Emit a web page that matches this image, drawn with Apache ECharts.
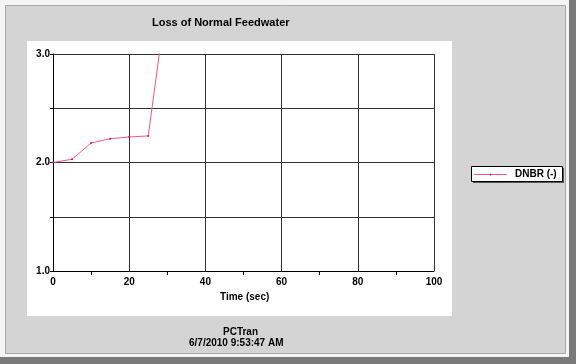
<!DOCTYPE html>
<html><head><meta charset="utf-8">
<script src="https://cdn.jsdelivr.net/npm/echarts@6/dist/echarts.min.js"></script>
<style>html,body{margin:0;padding:0;background:#d4d4d4}#c{width:576px;height:364px}</style>
</head><body><div id="c"></div>
<script>
const timeSec = [0, 5, 10, 15, 20, 25, 30];
const dnbr = [2.0, 2.03, 2.18, 2.22, 2.235, 2.245, 3.55];
const xTicks = [0, 20, 40, 60, 80, 100];
const yTicks = [1.0, 2.0, 3.0];
const titleText = 'Loss of Normal Feedwater';
const seriesName = 'DNBR (-)';
const footer1 = 'PCTran';
const footer2 = '6/7/2010 9:53:47 AM';

const chart = echarts.init(document.getElementById('c'), null, {renderer: 'canvas'});
const F = 'Arial, "Liberation Sans", sans-serif';
const lineColor = '#f4587a';
chart.setOption({
  backgroundColor: '#d4d4d4',
  animation: false,
  graphic: [
    {type: 'rect', z: -10, shape: {x: 0, y: 0, width: 576, height: 364}, style: {fill: '#7a7a7a'}},
    {type: 'rect', z: -9, shape: {x: 0, y: 0, width: 569, height: 357}, style: {fill: '#f4f4f4'}},
    {type: 'rect', z: -8, shape: {x: 5.5, y: 5.5, width: 560, height: 348}, style: {fill: '#d4d4d4', stroke: '#a8a8a8', lineWidth: 1}},
    {type: 'rect', z: -7, shape: {x: 27, y: 41, width: 425, height: 275}, style: {fill: '#ffffff'}},
    {type: 'text', style: {text: titleText, font: 'bold 11px ' + F, fill: '#000'}, left: 152, top: 17},
    {type: 'text', style: {text: footer1, font: 'bold 10px ' + F, fill: '#000'}, left: 223, top: 327},
    {type: 'text', style: {text: footer2, font: 'bold 10px ' + F, fill: '#000'}, left: 189, top: 338},
    {type: 'text', style: {text: 'Time (sec)', font: 'bold 10px ' + F, fill: '#000'}, left: 220, top: 292},
    // legend box
    {type: 'rect', z: 5, shape: {x: 473, y: 168, width: 91, height: 15}, style: {fill: '#555'}},
    {type: 'rect', z: 6, shape: {x: 471.5, y: 166.5, width: 91, height: 15}, style: {fill: '#fff', stroke: '#000', lineWidth: 1}},
    {type: 'line', z: 7, shape: {x1: 474, y1: 174.5, x2: 507, y2: 174.5}, style: {stroke: lineColor, lineWidth: 1}},
    {type: 'circle', z: 8, shape: {cx: 490.5, cy: 174.5, r: 1}, style: {fill: '#d0106a'}},
    {type: 'text', z: 8, style: {text: seriesName, font: 'bold 10px ' + F, fill: '#000', textVerticalAlign: 'middle'}, left: 515, top: 169}
  ],
  grid: {left: 53, right: 142, top: 54, bottom: 93, show: false},
  xAxis: {
    type: 'value', min: 0, max: 100, interval: 20,
    axisLine: {lineStyle: {color: '#000', width: 1}},
    axisTick: {show: false},
    minorTick: {show: true, splitNumber: 2, length: 4, lineStyle: {color: '#000'}},
    splitLine: {show: true, lineStyle: {color: '#333', width: 1}},
    axisLabel: {color: '#000', fontWeight: 'bold', fontSize: 10, fontFamily: F, margin: 6,
      formatter: v => xTicks.includes(v) ? String(v) : ''}
  },
  yAxis: {
    type: 'value', min: 1, max: 3, interval: 0.5,
    axisLine: {show: true, lineStyle: {color: '#000', width: 1}},
    axisTick: {show: true, length: 3, lineStyle: {color: '#000'}},
    splitLine: {show: true, lineStyle: {color: '#333', width: 1}},
    axisLabel: {color: '#000', fontWeight: 'bold', fontSize: 10, fontFamily: F, margin: 3,
      formatter: v => yTicks.some(t => Math.abs(t - v) < 1e-9) ? v.toFixed(1) : ''}
  },
  series: [{
    name: seriesName, type: 'line', clip: true,
    data: timeSec.map((t, i) => [t, dnbr[i]]),
    symbol: 'circle', symbolSize: 2, showSymbol: true,
    lineStyle: {color: lineColor, width: 1},
    itemStyle: {color: '#d0106a'}
  }]
});
</script></body></html>
